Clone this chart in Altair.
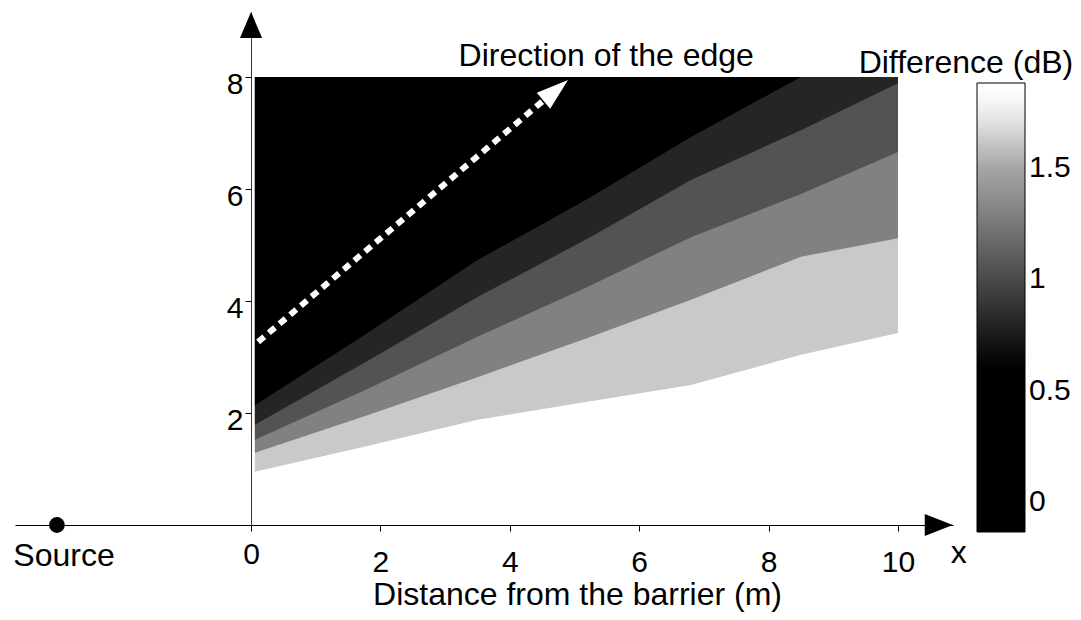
import altair as alt
import pandas as pd

FONT = "Liberation Sans"
FS = 32      # titles / annotations
LS = 30      # tick labels

# ---- contour band boundaries ----
xs = [0.06, 1.8, 3.5, 5.2, 6.8, 8.5, 10.0]
top_edge = [8.0, 8.0, 8.0, 8.0, 8.0, 8.0, 8.0]
b1 = [2.14, 3.43, 4.73, 5.82, 6.93, 8.0, 8.0]     # black / very dark
b2 = [1.79, 2.93, 4.07, 5.11, 6.16, 7.05, 7.89]   # very dark / dark
b3 = [1.52, 2.43, 3.36, 4.25, 5.14, 5.91, 6.66]   # dark / medium
b4 = [1.29, 1.96, 2.64, 3.34, 4.02, 4.79, 5.12]   # medium / light
b5 = [0.95, 1.41, 1.88, 2.20, 2.50, 3.04, 3.43]   # light / white
band_levels = [0.25, 0.8, 1.05, 1.3, 1.62]        # dB value of each band

# colour bar
cb_domain = [-0.135, 0.6, 1.0, 1.5, 1.76, 1.88]
cb_range = ["#000000", "#000000", "#4a4a4a", "#a6a6a6", "#f2f2f2", "#ffffff"]
cb_ticks = [0, 0.5, 1, 1.5]

# axes
x_ticks = [0, 2, 4, 6, 8, 10]
y_ticks = [2, 4, 6, 8]
x_domain = [-3.648, 10.85]
y_domain = [0, 9.16]

# dotted "direction of the edge" arrow
edge_x = [0.11, 4.52]
edge_y = [3.27, 7.58]
edge_head_x = [4.71]
edge_head_y = [7.76]

# source point
source_x = [-3.0]
source_y = [0.0]

# annotations
ann_text = ["Direction of the edge", "Difference (dB)", "Source", "x"]
ann_x = [5.49, 11.05, -2.89, 10.94]
ann_y = [8.2, 8.07, -0.73, -0.68]

# ---- build tables ----
bounds = [b1, b2, b3, b4, b5]
rows = []
for i, lvl in enumerate(band_levels):
    for j, x in enumerate(xs):
        rows.append({"band": i, "level": lvl, "x": x, "y": bounds[i][j], "y2": top_edge[j]})
bands_df = pd.DataFrame(rows)

xscale = alt.Scale(domain=x_domain, nice=False, zero=False)
yscale = alt.Scale(domain=y_domain, nice=False, zero=False)
cscale = alt.Scale(domain=cb_domain, range=cb_range, interpolate="rgb")

legend = alt.Legend(
    title=None, orient="none", legendX=962, legendY=71, direction="vertical",
    gradientLength=449, gradientThickness=48, gradientStrokeColor="black",
    gradientStrokeWidth=1, values=cb_ticks, format=".1~f",
    labelFont=FONT, labelFontSize=LS, labelColor="black", labelOffset=4,
    labelLimit=200, padding=0,
)

x_axis = alt.Axis(
    values=x_ticks, grid=False, tickSize=6, tickColor="black", domainColor="black",
    domainWidth=1, labelFont=FONT, labelFontSize=LS, labelColor="black",
    labelPadding={"condition": {"test": "datum.value === 0", "value": 8}, "value": 16},
    title="Distance from the barrier (m)", titleFont=FONT, titleFontSize=FS,
    titleFontWeight="normal", titleColor="black", titleX=562, titleY=79,
    titleAlign="center", titleBaseline="alphabetic",
)
y_axis = alt.Axis(
    values=y_ticks, grid=False, tickSize=6, tickColor="black", domainColor="#333333",
    domainWidth=1, labelFont=FONT, labelFontSize=LS, labelColor="black",
    labelPadding=2, labelBaseline="middle", labelOffset=8, offset=-236, title=None,
)


def X():
    return alt.X("x:Q", scale=xscale, axis=x_axis)


def Y():
    return alt.Y("y:Q", scale=yscale, axis=y_axis)


base = alt.Chart(bands_df)
layers = []
for i in reversed(range(len(band_levels))):
    layers.append(
        base.transform_filter(alt.datum.band == i)
        .mark_area(interpolate="linear")
        .encode(x=X(), y=Y(), y2="y2:Q",
                color=alt.Color("level:Q", scale=cscale, legend=legend))
    )

edge_df = pd.DataFrame({"x": edge_x, "y": edge_y})
edge_line = alt.Chart(edge_df).mark_line(color="white", strokeWidth=6, strokeDash=[8, 6]).encode(
    x=X(), y=Y()
)
head_df = pd.DataFrame({"x": edge_head_x, "y": edge_head_y})
edge_head = alt.Chart(head_df).mark_point(
    shape="M0,-1L-0.65,1L0.65,1Z", size=1024, filled=True, color="white", opacity=1,
    angle=50, strokeWidth=0,
).encode(x=X(), y=Y())

yarrow_df = pd.DataFrame({"x": [0.0], "y": [8.93]})
yarrow = alt.Chart(yarrow_df).mark_point(
    shape="M0,-1L-0.85,1L0.85,1Z", size=676, filled=True, color="black", opacity=1, strokeWidth=0,
).encode(x=X(), y=Y())
xarrow_df = pd.DataFrame({"x": [10.63], "y": [0.0]})
xarrow = alt.Chart(xarrow_df).mark_point(
    shape="M1,0L-1,-0.79L-1,0.79Z", size=784, filled=True, color="black", opacity=1, strokeWidth=0,
).encode(x=X(), y=Y())

src_df = pd.DataFrame({"x": source_x, "y": source_y})
source = alt.Chart(src_df).mark_circle(size=250, color="black", opacity=1).encode(x=X(), y=Y())

ann_df = pd.DataFrame({"t": ann_text, "x": ann_x, "y": ann_y})
ann = alt.Chart(ann_df).mark_text(
    font=FONT, fontSize=FS, color="black", align="center", baseline="alphabetic"
).encode(x=X(), y=Y(), text="t:N")

chart = alt.layer(*layers, edge_line, edge_head, yarrow, xarrow, source, ann).properties(
    width=938, height=513,
    autosize=alt.AutoSizeParams(type="none"),
    padding={"left": 15, "top": 12, "right": 128, "bottom": 95},
    background="white",
).configure_view(stroke=None)

chart.save("out.html", embed_options={"renderer": "svg", "actions": False})
